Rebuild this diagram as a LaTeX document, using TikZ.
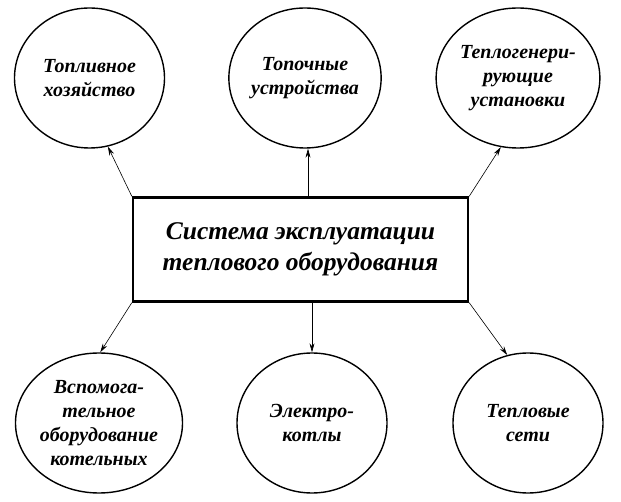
\documentclass[tikz,border=0pt]{standalone}
\usepackage{fontspec}
\setmainfont{Liberation Serif}
\usetikzlibrary{shapes.geometric,arrows.meta}
\begin{document}
\begin{tikzpicture}[x=1pt,y=-1pt,
  elnode/.style={ellipse,draw,line width=1.4pt,minimum width=150pt,minimum height=140pt,inner sep=0pt,align=center,
    font=\fontsize{20}{24}\selectfont\bfseries\itshape},
  boxnode/.style={draw,line width=2.4pt,minimum width=335pt,minimum height=104pt,align=center,
    font=\fontsize{25.5}{31}\selectfont\bfseries\itshape},
  conn/.style={line width=0.6pt,-{Stealth[length=9pt,width=5pt,inset=3pt]}}]
\useasboundingbox (0,0) rectangle (621,502);
\node[boxnode] (box) at (300.5,249.5) {Система эксплуатации\\теплового оборудования};
\node[elnode] (e1) at (89.5,78) {Топливное\\хозяйство};
\node[elnode] (e2) at (305,78) {Топочные\\устройства};
\node[elnode] (e3) at (518,78) {Теплогенери-\\рующие\\установки};
\node[elnode] (e4) at (99,423) {Вспомога-\\тельное\\оборудование\\котельных};
\node[elnode] (e5) at (312,423) {Электро-\\котлы};
\node[elnode] (e6) at (528,423) {Тепловые\\сети};
\coordinate (t2) at ([xshift=3pt]e2.south);
\coordinate (t5) at (e5.north);
\draw[conn] (box.north west) -- (e1.-75);
\draw[conn] (t2 |- box.north) -- (t2);
\draw[conn] (box.north east) -- (e3.-104);
\draw[conn] (box.south west) -- (e4.89);
\draw[conn] (t5 |- box.south) -- (t5);
\draw[conn] (box.south east) -- (e6.107);
\end{tikzpicture}
\end{document}
